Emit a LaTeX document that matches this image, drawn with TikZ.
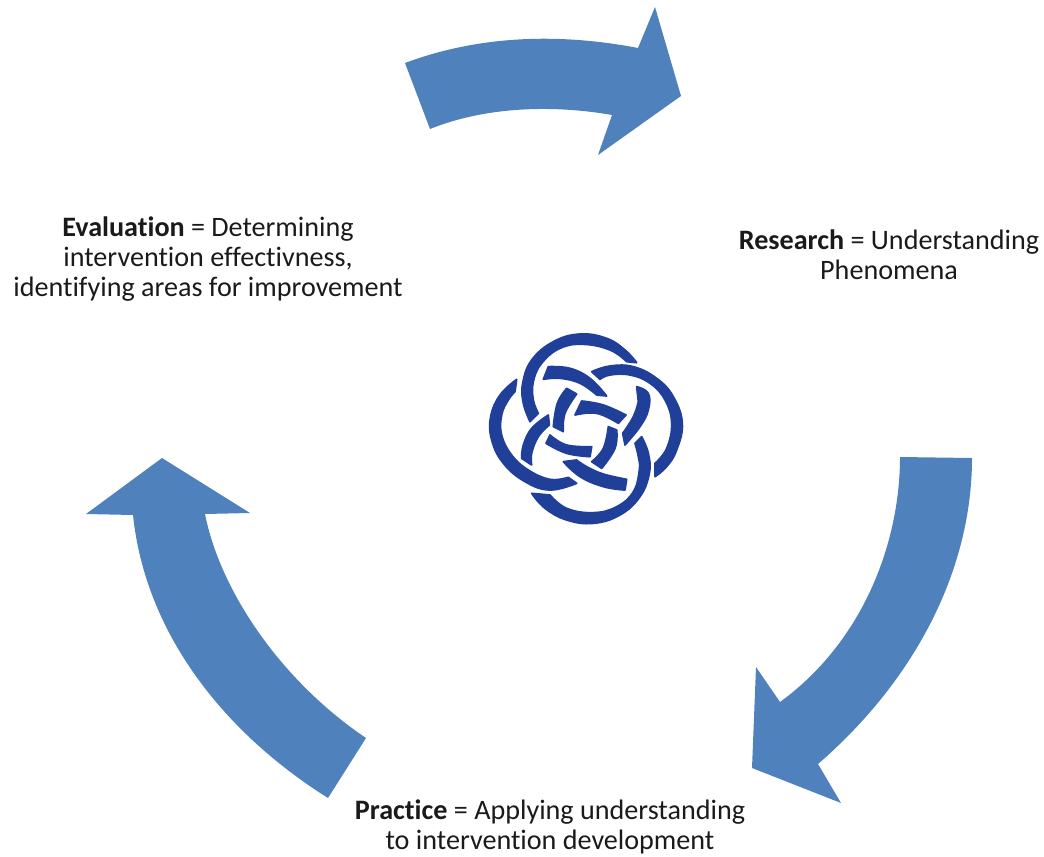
\documentclass[tikz,border=0pt]{standalone}
\usepackage{fontspec}
\setmainfont[Ligatures=NoCommon]{Carlito}
\definecolor{arrowblue}{HTML}{4F81BD}
\definecolor{knotblue}{HTML}{1F3F99}
\definecolor{ink}{HTML}{1A1A1A}
\newcommand{\knotpiece}[2]{\filldraw[knotblue,line width=1.3pt,line join=round] plot[smooth,tension=0.7] coordinates {#1} -- plot[smooth,tension=0.7] coordinates {#2} -- cycle;}
\tikzset{label text/.style={align=center,anchor=base,inner sep=0pt,text=ink,font=\fontsize{21.1pt}{22.2pt}\selectfont}}
\begin{document}
\begin{tikzpicture}[x=0.75pt,y=-0.75pt]
\useasboundingbox (0,0) rectangle (1044,856);
% top arrow
\fill[arrowblue] (405,63) .. controls (480,35) and (560,33) .. (638,48) -- (655,7) -- (681,96) -- (598,155) -- (612,115)
  .. controls (555,105) and (487,106) .. (430,129) -- cycle;
% right arrow
\fill[arrowblue] (972,458) .. controls (972,570) and (915,680) .. (818,764) -- (841,803) -- (752,768) -- (756,667) -- (780,702)
  .. controls (865,640) and (900,540) .. (900,457) -- cycle;
% left arrow
\fill[arrowblue] (162,458) -- (250,513) -- (205,514)
  .. controls (220,590) and (280,680) .. (366,738) -- (328,798)
  .. controls (220,730) and (145,630) .. (133,515) -- (86,514) -- cycle;
% knot
\begin{scope}[shift={(470,320)},x=0.25pt,y=-0.25pt]
\knotpiece{(180,305) (160,250) (158,190) (185,120) (250,65) (330,42) (410,55) (465,90) (500,128)}{(470,125) (420,90) (340,73) (270,85) (215,130) (190,185) (190,240) (205,280)}
\knotpiece{(365,155) (420,138) (490,140) (560,175) (610,230) (637,310) (620,390) (590,440) (555,470)}{(555,430) (590,385) (605,310) (585,240) (540,190) (480,165) (420,165) (390,178)}
\knotpiece{(515,350) (535,400) (538,460) (510,530) (450,585) (370,610) (290,600) (225,565) (185,520)}{(240,525) (290,565) (370,578) (440,560) (490,515) (508,450) (505,410) (495,370)}
\knotpiece{(140,178) (90,225) (62,290) (65,360) (100,430) (165,485) (240,510) (320,490)}{(295,472) (240,478) (175,450) (125,405) (95,345) (95,285) (115,240) (135,215)}
\knotpiece{(235,140) (300,145) (360,175) (410,228)}{(380,225) (330,190) (270,175) (220,178)}
\knotpiece{(500,200) (535,220) (535,270) (510,320) (465,375)}{(458,340) (490,290) (505,245)}
\knotpiece{(280,425) (330,470) (400,500) (465,510)}{(470,478) (400,462) (350,440) (320,420)}
\knotpiece{(235,285) (185,325) (160,375) (155,415)}{(185,435) (185,400) (205,350) (238,315)}
\knotpiece{(290,205) (262,250) (250,320)}{(280,335) (285,280) (320,222)}
\knotpiece{(335,243) (400,255) (468,285)}{(445,310) (380,280) (315,285)}
\knotpiece{(440,330) (435,385) (395,445)}{(365,425) (400,385) (415,320)}
\knotpiece{(240,345) (290,375) (365,380)}{(360,410) (290,400) (228,370)}
\end{scope}
% labels
\node[label text] (evaluation) at (208,296) {\textbf{Evaluation} = Determining\\intervention effectivness,\\identifying areas for improvement};
\node[label text] (research) at (889,279) {\textbf{Research} = Understanding\\Phenomena};
\node[label text] (practice) at (550,849) {\textbf{Practice} = Applying understanding\\to intervention development};
\end{tikzpicture}
\end{document}
